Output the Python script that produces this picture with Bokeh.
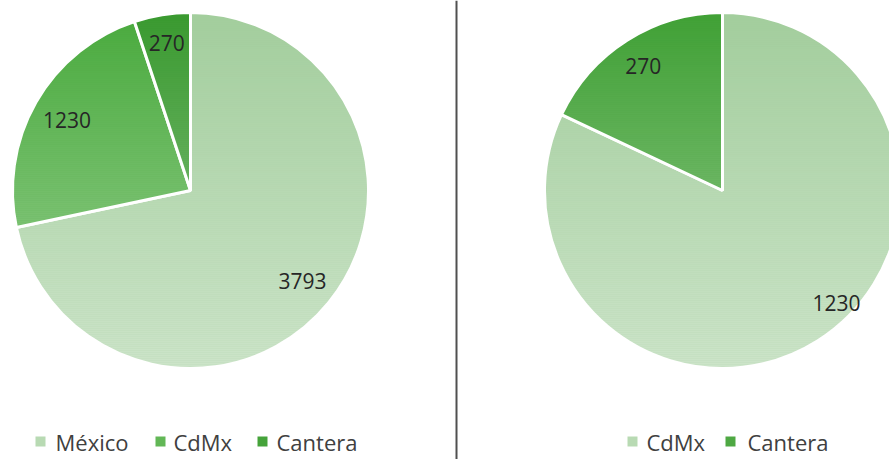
import numpy as np
from bokeh.plotting import figure
from bokeh.models import Range1d, Span, ColumnDataSource
from bokeh.embed import file_html
from bokeh.resources import INLINE
from bokeh.core.properties import value

# ---------------- data ----------------
left_categories = ["México", "CdMx", "Cantera"]
left_values = [3793, 1230, 270]
right_categories = ["CdMx", "Cantera"]
right_values = [1230, 270]

# ---------------- layout / style ----------------
W, H = 889, 459
R = 178
FONT = "Open Sans"
left_center = (190, H - 190)
right_center = (722, H - 190)
left_colors = ["#a3ce9d", "#4aab3e", "#3a9a30"]
right_colors = ["#a3ce9d", "#41a136"]
left_legend_colors = ["#b8dab3", "#62b756", "#45a33a"]
right_legend_colors = ["#b8dab3", "#4ea843"]
# label placement: fraction of radius, angular nudge (deg, counter-clockwise)
left_label_r = [0.81, 0.80, 0.84]
left_label_shift = [0, 0, 0]
right_label_r = [0.90, 0.83]
right_label_shift = [13, 0]
left_legend_sq_x = [40, 160, 262]
left_legend_tx_x = [55, 173, 276]
right_legend_sq_x = [632, 730]
right_legend_tx_x = [646, 747]
legend_y = H - 441
sep_x = 456

p = figure(width=W, height=H, x_range=Range1d(0, W), y_range=Range1d(0, H),
           output_backend="svg", toolbar_location=None, min_border=0)
p.axis.visible = False
p.grid.visible = False
p.outline_line_color = None
p.background_fill_color = "white"
p.border_fill_color = "white"


def draw_pie(center, values, colors, lr, lshift):
    cx, cy = center
    vals = np.array(values, dtype=float)
    frac = vals / vals.sum()
    cum = np.concatenate([[0.0], np.cumsum(frac)])
    start = np.pi / 2 - 2 * np.pi * cum[:-1]
    end = np.pi / 2 - 2 * np.pi * cum[1:]
    src = ColumnDataSource(dict(start=start, end=end, color=colors))
    p.wedge(x=cx, y=cy, radius=R, start_angle="start", end_angle="end",
            direction="clock", fill_color="color", line_color="white",
            line_width=3, source=src)
    # vertical lightening gradient (white overlay on top of slices)
    step = 2
    ys = np.arange(cy - R, cy + R, step) + step / 2
    t = (cy + R - ys) / (2 * R)
    alphas = 0.45 * t
    p.hbar(y=ys, height=step, left=cx - R - 3, right=cx + R + 3,
           fill_color="white", fill_alpha=alphas, line_alpha=0)
    mid = (start + end) / 2 + np.radians(lshift)
    lx = cx + np.array(lr) * R * np.cos(mid)
    ly = cy + np.array(lr) * R * np.sin(mid)
    lsrc = ColumnDataSource(dict(x=lx, y=ly, t=[str(v) for v in values]))
    p.text(x="x", y="y", text="t", source=lsrc, text_font=value(FONT),
           text_font_size="21px", text_color="#262626",
           text_align="center", text_baseline="middle")


def draw_legend(cats, colors, sq_x, tx_x):
    p.scatter(x=sq_x, y=[legend_y] * len(cats), marker="square", size=10,
              fill_color=colors, line_color=None)
    p.text(x=tx_x, y=[legend_y] * len(cats), text=cats, text_font=value(FONT),
           text_font_size="22px", text_color="#404040",
           text_align="left", text_baseline="middle")


draw_pie(left_center, left_values, left_colors, left_label_r, left_label_shift)
draw_pie(right_center, right_values, right_colors, right_label_r, right_label_shift)
draw_legend(left_categories, left_legend_colors, left_legend_sq_x, left_legend_tx_x)
draw_legend(right_categories, right_legend_colors, right_legend_sq_x, right_legend_tx_x)

p.add_layout(Span(location=sep_x, dimension="height", line_color="#505050", line_width=2))

open("out.html", "w").write(file_html(p, INLINE))
